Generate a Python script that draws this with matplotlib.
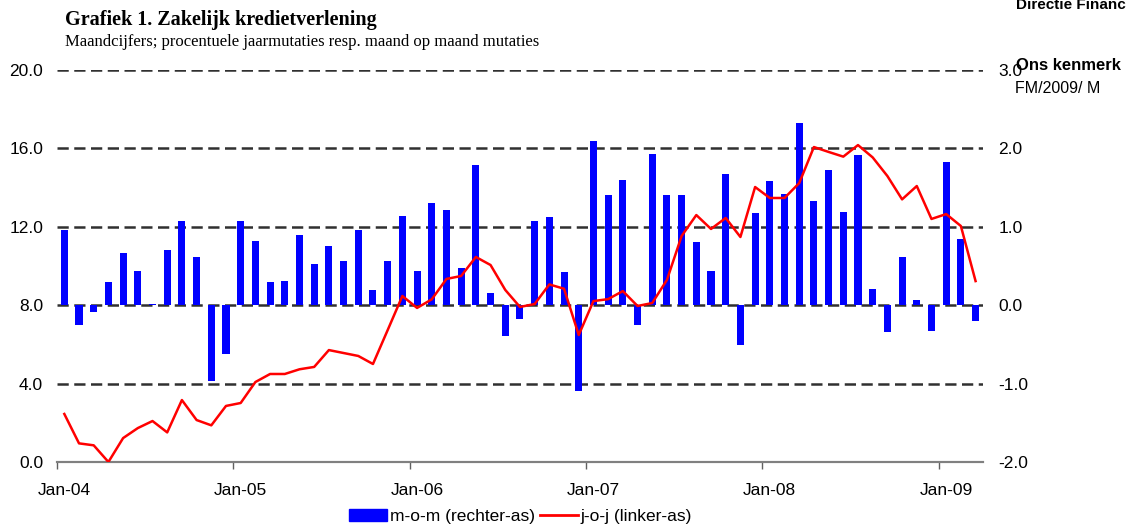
import matplotlib
matplotlib.use("Agg")
import matplotlib.pyplot as plt
from matplotlib.patches import Patch
from matplotlib.lines import Line2D
import numpy as np

# maandcijfers jan-2004 t/m mrt-2009
mom = [0.96, -0.25, -0.09, 0.30, 0.66, 0.43, 0.01, 0.70, 1.08, 0.62, -0.97, -0.62,
       1.07, 0.82, 0.30, 0.31, 0.89, 0.53, 0.76, 0.57, 0.96, 0.20, 0.57, 1.14,
       0.43, 1.30, 1.21, 0.47, 1.79, 0.15, -0.39, -0.17, 1.08, 1.12, 0.42, -1.10,
       2.10, 1.41, 1.60, -0.25, 1.93, 1.41, 1.41, 0.80, 0.44, 1.67, -0.51, 1.18,
       1.59, 1.42, 2.33, 1.33, 1.73, 1.19, 1.92, 0.21, -0.34, 0.62, 0.07, -0.33,
       1.83, 0.85, -0.20]
joj = [2.45, 0.95, 0.85, 0.0, 1.22, 1.73, 2.09, 1.51, 3.16, 2.14, 1.87, 2.86,
       3.01, 4.08, 4.49, 4.49, 4.73, 4.85, 5.71, 5.56, 5.41, 5.00, 6.73, 8.47,
       7.86, 8.30, 9.34, 9.49, 10.46, 10.05, 8.78, 7.91, 8.06, 9.06, 8.84, 6.48,
       8.21, 8.31, 8.72, 7.96, 8.11, 9.29, 11.53, 12.60, 11.89, 12.45, 11.48, 14.03,
       13.47, 13.47, 14.23, 16.07, 15.82, 15.58, 16.17, 15.54, 14.59, 13.40, 14.08, 12.40,
       12.65, 12.04, 9.23]
jaren = ['Jan-04', 'Jan-05', 'Jan-06', 'Jan-07', 'Jan-08', 'Jan-09']
links_ticks = [0.0, 4.0, 8.0, 12.0, 16.0, 20.0]
rechts_ticks = [-2.0, -1.0, 0.0, 1.0, 2.0, 3.0]

plt.rcParams['font.family'] = ['Liberation Sans', 'DejaVu Sans']

fig = plt.figure(figsize=(11.44, 5.26), dpi=100)
ax = fig.add_axes([0.0498, 0.1217, 0.8094, 0.7452])
ax2 = ax.twinx()
x = np.arange(len(mom))

# staven op de rechter-as
ax.bar(x, mom, width=0.48, color='#0000FF', zorder=3)
ax.set_ylim(-2, 3)
ax.set_xlim(-0.5, len(mom) - 0.5)
for v in rechts_ticks[1:]:
    ax.axhline(v, color='#303030', linestyle=(0, (4.5, 2.2)), linewidth=1.8, zorder=1)

# lijn op de linker-as
ax2.plot(x, joj, color='#FF0000', linewidth=1.8, zorder=4)
ax2.set_ylim(0, 20)

# as-rollen omwisselen: staven rechts, lijn links
ax.yaxis.tick_right()
ax.set_yticks(rechts_ticks)
ax.set_yticklabels([f'{v:.1f}' for v in rechts_ticks])
ax2.yaxis.tick_left()
ax2.set_yticks(links_ticks)
ax2.set_yticklabels([f'{v:.1f}' for v in links_ticks])

ax.set_xticks(np.arange(len(jaren)) * 12 - 0.5)
ax.set_xticklabels([])
ax.set_xticks(np.arange(len(jaren)) * 12, minor=True)
ax.set_xticklabels(jaren, minor=True)

for a in (ax, ax2):
    for s in ('top', 'left', 'right'):
        a.spines[s].set_visible(False)
    a.spines['bottom'].set_color('#808080')
    a.spines['bottom'].set_linewidth(1.5)
    a.tick_params(axis='y', length=0, labelsize=12.5)
ax.tick_params(axis='y', pad=11)
ax2.tick_params(axis='y', pad=10)
ax.tick_params(axis='x', which='major', length=5, color='#606060', width=1)
ax.tick_params(axis='x', which='minor', length=0, labelsize=12.5, pad=15)
ax.patch.set_visible(False)

fig.text(0.057, 0.962, 'Grafiek 1. Zakelijk kredietverlening', family='Liberation Serif',
         fontweight='bold', fontsize=14.5, va='center')
fig.text(0.057, 0.921, 'Maandcijfers; procentuele jaarmutaties resp. maand op maand mutaties',
         family='Liberation Serif', fontsize=12, va='center')
fig.text(0.888, 1.003, 'Directie Financ', fontweight='bold', fontsize=11, va='top')
fig.text(0.888, 0.876, 'Ons kenmerk', fontweight='bold', fontsize=12, va='center')
fig.text(0.887, 0.831, 'FM/2009/ M', fontsize=11.5, va='center')

handles = [Patch(color='#0000FF'), Line2D([], [], color='#FF0000', linewidth=2)]
fig.legend(handles, ['m-o-m (rechter-as)', 'j-o-j (linker-as)'], loc='center',
           bbox_to_anchor=(0.455, 0.018), ncol=2, frameon=False, fontsize=12.5,
           handlelength=2.2, handletextpad=0.15, columnspacing=0.3, borderpad=0)

fig.savefig('out.png', dpi=100)
